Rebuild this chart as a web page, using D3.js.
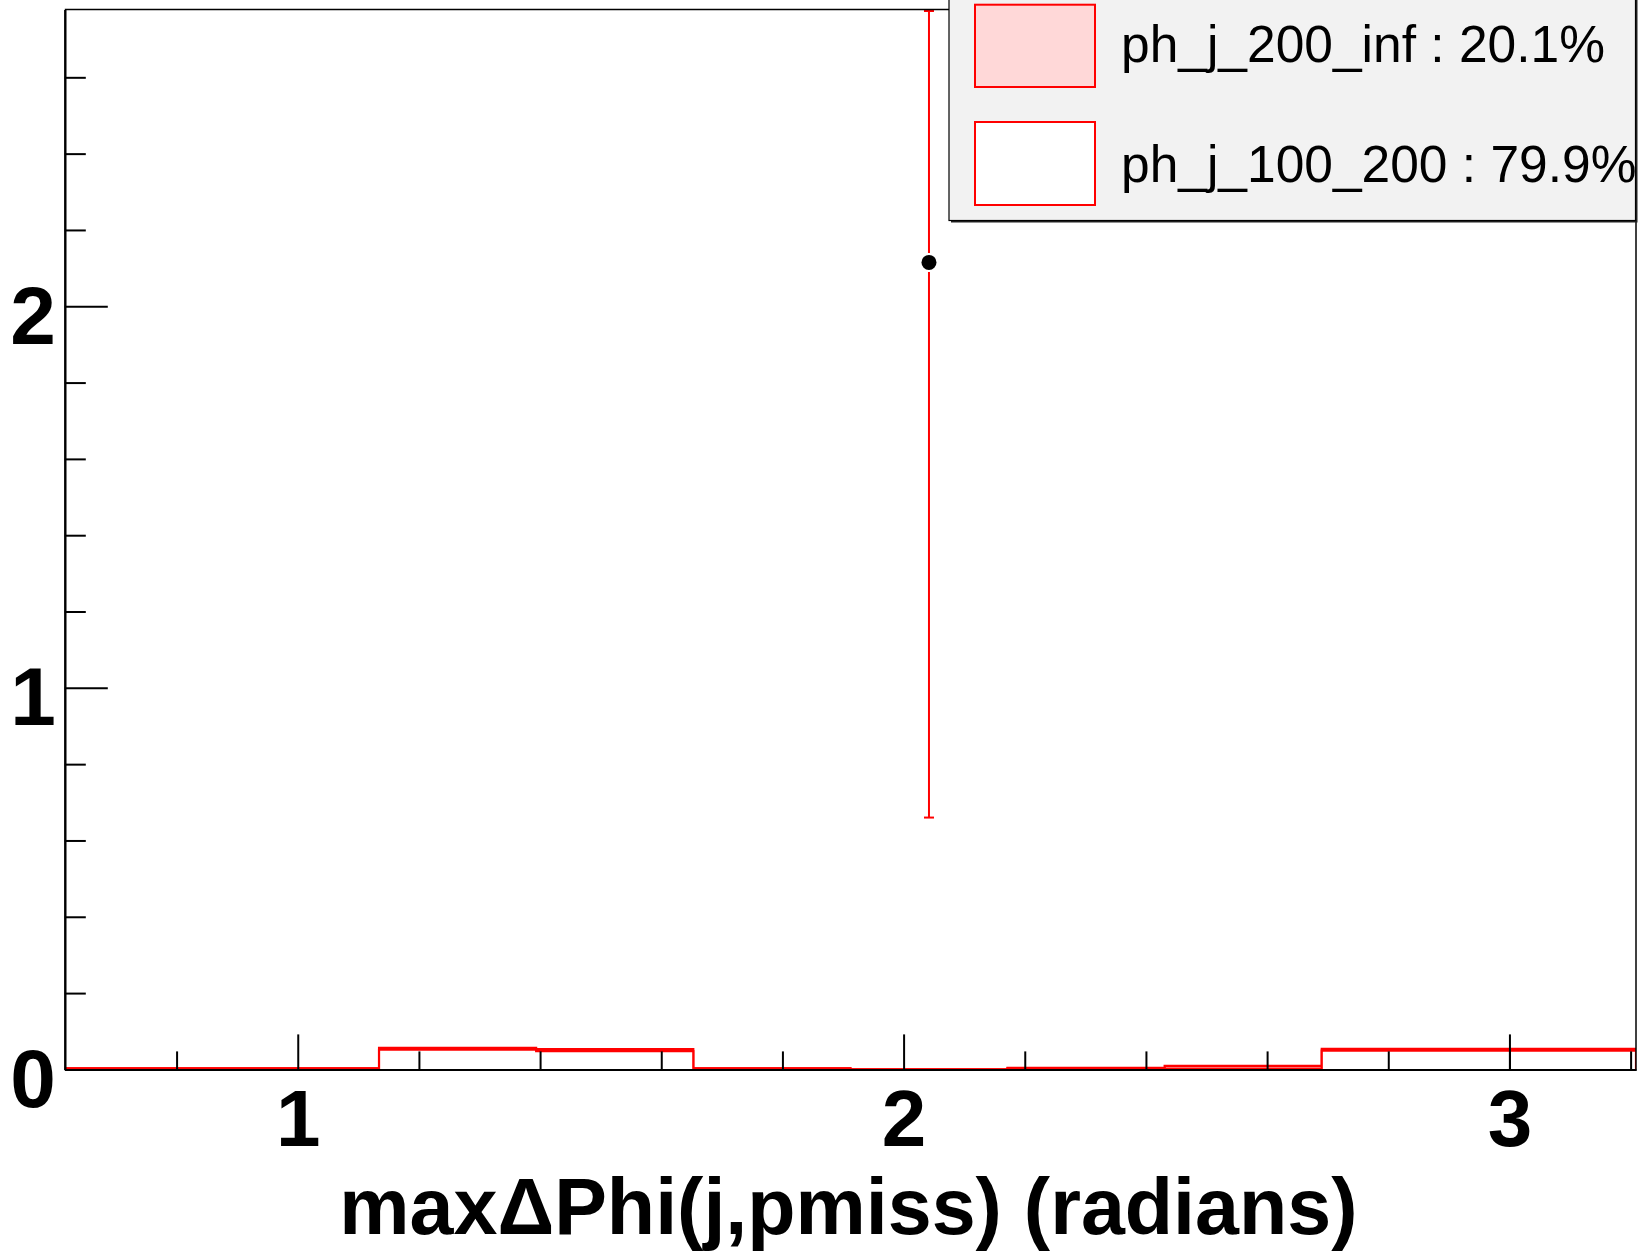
<!DOCTYPE html>
<html>
<head>
<meta charset="utf-8">
<script src="https://cdn.jsdelivr.net/npm/d3@7"></script>
<style>
  html, body { margin: 0; padding: 0; background: #ffffff; }
  svg { display: block; }
  text { font-family: "Liberation Sans", Arial, Helvetica, sans-serif; }
</style>
</head>
<body>
<script>
// ---------------- DATA ----------------
const xDomain = [0.6155, 3.2089];
const yDomain = [0, 2.778];
const binEdges = [0.6155, 0.8748, 1.1342, 1.3935, 1.6529, 1.9122, 2.1715, 2.4309, 2.6902, 2.9496, 3.2089];
const seriesNames = ["ph_j_100_200", "ph_j_200_inf"];
const ph_j_100_200 = [0.003, 0.003, 0.0516, 0.048, 0.003, 0.0, 0.003, 0.002, 0.049, 0.049];
const ph_j_200_inf = [0.0, 0.0, 0.005, 0.005, 0.0, 0.0, 0.001, 0.007, 0.005, 0.005];
const legendLabels = ["ph_j_200_inf : 20.1%", "ph_j_100_200 : 79.9%"];
const dataX = [2.0419];
const dataY = [2.115];
const dataErrLow = [1.455];
const dataErrHigh = [1.455];
const xMajorTicks = [1, 2, 3];
const xMinorTicks = [0.8, 1.2, 1.4, 1.6, 1.8, 2.2, 2.4, 2.6, 2.8, 3.0, 3.2];
const yMajorTicks = [0, 1, 2];
const yMinorTicks = [0.2, 0.4, 0.6, 0.8, 1.2, 1.4, 1.6, 1.8, 2.2, 2.4, 2.6];
const xTitle = "max\u0394Phi(j,pmiss) (radians)";

// ---------------- LAYOUT ----------------
const W = 1639, H = 1253;
const L = 64.8, R = 1636, T = 9.4, B = 1069.4;
const RED = "#ff0000", PINK = "#ffd8d8";

const svg = d3.select("body").append("svg").attr("width", W).attr("height", H);
svg.append("rect").attr("width", W).attr("height", H).attr("fill", "#fff");

const x = d3.scaleLinear().domain(xDomain).range([L, R]);
const y = d3.scaleLinear().domain(yDomain).range([B, T]);

svg.append("clipPath").attr("id", "plotclip")
  .append("rect").attr("x", L).attr("y", T).attr("width", R - L).attr("height", B - T);

const plot = svg.append("g").attr("clip-path", "url(#plotclip)");

// stacked totals
const totals = ph_j_100_200.map((v, i) => v + ph_j_200_inf[i]);

function stepPath(vals) {
  const pts = [[binEdges[0], 0]];
  vals.forEach((v, i) => { pts.push([binEdges[i], v]); pts.push([binEdges[i + 1], v]); });
  pts.push([binEdges[binEdges.length - 1], 0]);
  return d3.line().x(d => x(d[0])).y(d => y(d[1]))(pts);
}

// top layer (total) with pink fill, then lower layer with white fill
plot.append("path").attr("d", stepPath(totals))
  .attr("fill", PINK).attr("stroke", RED).attr("stroke-width", 2.2);
plot.append("path").attr("d", stepPath(ph_j_100_200))
  .attr("fill", "#fff").attr("stroke", RED).attr("stroke-width", 2.2);

// data point with error bar
const mr = 7.5, gap = 2;
dataX.forEach((dx, i) => {
  const cx = x(dx), cy = y(dataY[i]);
  const yLo = y(dataY[i] - dataErrLow[i]);
  const yHi = y(dataY[i] + dataErrHigh[i]);
  plot.append("line").attr("x1", cx).attr("x2", cx).attr("y1", cy - mr - gap).attr("y2", yHi)
    .attr("stroke", RED).attr("stroke-width", 2);
  plot.append("line").attr("x1", cx).attr("x2", cx).attr("y1", cy + mr + gap).attr("y2", yLo)
    .attr("stroke", RED).attr("stroke-width", 2);
  plot.append("line").attr("x1", cx - 5).attr("x2", cx + 5).attr("y1", yLo).attr("y2", yLo)
    .attr("stroke", RED).attr("stroke-width", 2);
  plot.append("line").attr("x1", cx - 5).attr("x2", cx + 5).attr("y1", Math.max(yHi, T + 1.5)).attr("y2", Math.max(yHi, T + 1.5))
    .attr("stroke", RED).attr("stroke-width", 2);
  plot.append("circle").attr("cx", cx).attr("cy", cy).attr("r", mr).attr("fill", "#000");
});

// frame top/right
svg.append("line").attr("x1", L).attr("x2", R).attr("y1", T).attr("y2", T).attr("stroke", "#000").attr("stroke-width", 1.5);
svg.append("line").attr("x1", R).attr("x2", R).attr("y1", T).attr("y2", B).attr("stroke", "#000").attr("stroke-width", 1.5);

// axes
const xMajor = d3.axisBottom(x).tickValues(xMajorTicks).tickSizeInner(-35).tickSizeOuter(0).tickFormat(d3.format("d"));
const xMinor = d3.axisBottom(x).tickValues(xMinorTicks).tickSizeInner(-18).tickSizeOuter(0).tickFormat("");
const yMajor = d3.axisLeft(y).tickValues(yMajorTicks).tickSizeInner(-43).tickSizeOuter(0).tickFormat(d3.format("d"));
const yMinor = d3.axisLeft(y).tickValues(yMinorTicks).tickSizeInner(-21).tickSizeOuter(0).tickFormat("");

function styleAxis(g) {
  g.selectAll("path.domain").attr("stroke", "#000").attr("stroke-width", 2);
  g.selectAll(".tick line").attr("stroke", "#000").attr("stroke-width", 2);
}

const gxm = svg.append("g").attr("transform", `translate(0,${B})`).call(xMinor).call(styleAxis);
const gx = svg.append("g").attr("transform", `translate(0,${B})`).call(xMajor).call(styleAxis);
gx.selectAll(".tick text")
  .attr("y", 77).attr("dy", null)
  .attr("font-family", "'Liberation Sans', Arial, sans-serif")
  .attr("font-weight", "bold").attr("font-size", 80).attr("fill", "#000");

const gym = svg.append("g").attr("transform", `translate(${L},0)`).call(yMinor).call(styleAxis);
const gy = svg.append("g").attr("transform", `translate(${L},0)`).call(yMajor).call(styleAxis);
gy.selectAll(".tick text")
  .attr("x", -9).attr("dy", null).attr("y", 37)
  .attr("text-anchor", "end")
  .attr("font-family", "'Liberation Sans', Arial, sans-serif")
  .attr("font-weight", "bold").attr("font-size", 82).attr("fill", "#000");

// x title
svg.append("text").attr("x", (L + R) / 2 - 2).attr("y", 1233.5)
  .attr("text-anchor", "middle").attr("font-weight", "bold").attr("font-size", 79)
  .attr("fill", "#000").text(xTitle);

// legend
const lg = svg.append("g");
const lx0 = 949, lx1 = 1635.5, ly0 = -5, ly1 = 220.5;
lg.append("clipPath").attr("id", "legclip").append("rect")
  .attr("x", lx0).attr("y", ly0).attr("width", lx1 - lx0).attr("height", ly1 - ly0);
lg.append("rect").attr("x", lx0 + 2).attr("y", ly0 + 2).attr("width", lx1 - lx0).attr("height", ly1 - ly0).attr("fill", "#222");
lg.append("rect").attr("x", lx0).attr("y", ly0).attr("width", lx1 - lx0).attr("height", ly1 - ly0)
  .attr("fill", "#f2f2f2").attr("stroke", "#000").attr("stroke-width", 1.2);
const swatchFill = [PINK, "#ffffff"];
const swY = [[4.7, 87], [122, 205]];
const txY = [62, 182];
legendLabels.forEach((lab, i) => {
  lg.append("text").attr("clip-path", "url(#legclip)").attr("x", 1121).attr("y", txY[i])
    .attr("font-size", 51.5).attr("fill", "#000").text(lab);
  lg.append("rect").attr("x", 975).attr("y", swY[i][0]).attr("width", 120).attr("height", swY[i][1] - swY[i][0])
    .attr("fill", swatchFill[i]).attr("stroke", RED).attr("stroke-width", 2);
});
</script>
</body>
</html>
